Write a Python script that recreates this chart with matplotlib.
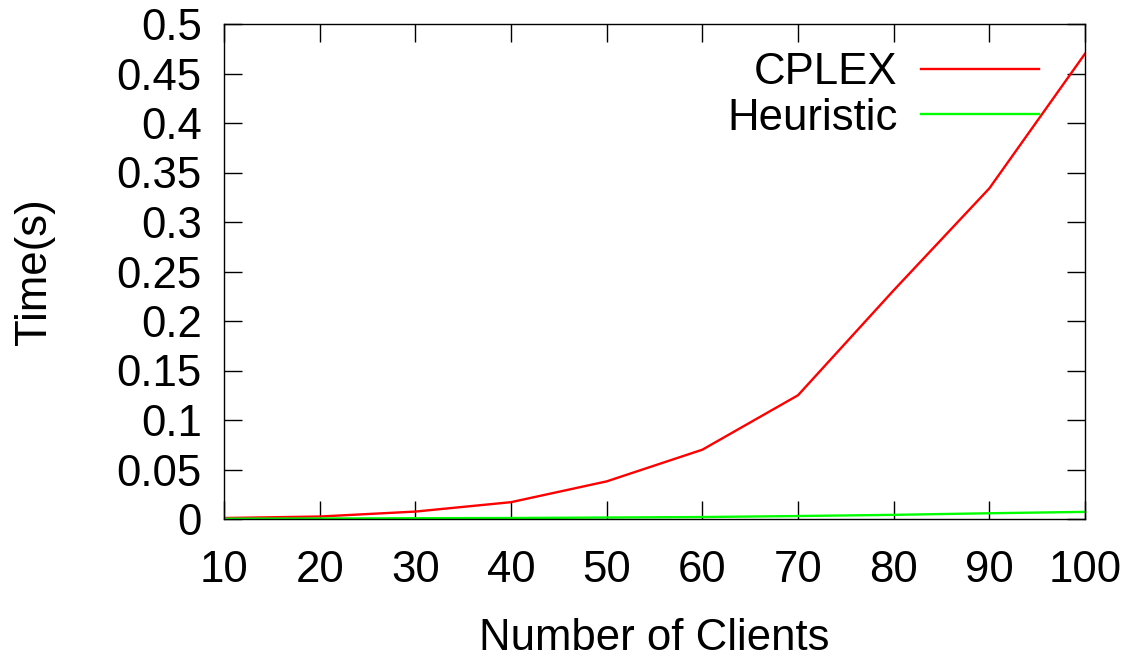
import matplotlib
matplotlib.use("Agg")
import matplotlib.pyplot as plt

clients = [10, 20, 30, 40, 50, 60, 70, 80, 90, 100]
cplex = [0.001, 0.0025, 0.0075, 0.017, 0.038, 0.070, 0.125, 0.231, 0.334, 0.470]
heuristic = [0.0003, 0.0005, 0.0008, 0.001, 0.0015, 0.002, 0.003, 0.0042, 0.0058, 0.0072]
xticks = [10, 20, 30, 40, 50, 60, 70, 80, 90, 100]
yticks = [0, 0.05, 0.1, 0.15, 0.2, 0.25, 0.3, 0.35, 0.4, 0.45, 0.5]
ytick_labels = ["0", "0.05", "0.1", "0.15", "0.2", "0.25", "0.3", "0.35", "0.4", "0.45", "0.5"]

FS = 31.5
plt.rcParams['font.family'] = ['Liberation Sans', 'DejaVu Sans']
fig = plt.figure(figsize=(11.33, 6.59), dpi=100)
ax = fig.add_axes([224/1133, 1-519/659, (1085-224)/1133, (519-24)/659])

ax.plot(clients, cplex, color='#ff0000', lw=1.7, label='CPLEX')
ax.plot(clients, heuristic, color='#00ff00', lw=1.7, label='Heuristic')

ax.set_xlim(10, 100)
ax.set_ylim(0, 0.5)
ax.set_xticks(xticks)
ax.set_yticks(yticks)
ax.set_yticklabels(ytick_labels)
ax.tick_params(direction='in', length=13, width=1, top=True, right=True,
               labelsize=FS)
ax.tick_params(axis='y', pad=16)
ax.tick_params(axis='x', pad=22)
for s in ax.spines.values():
    s.set_linewidth(1)

ax.set_xlabel('Number of Clients', fontsize=FS, labelpad=20)
ax.set_ylabel('Time(s)', fontsize=FS, labelpad=44)

leg = ax.legend(loc='upper right', bbox_to_anchor=(0.9466, 0.943), frameon=False,
                markerfirst=False, fontsize=FS, handlelength=2.7,
                handletextpad=0.53, labelspacing=0.1, borderaxespad=0, borderpad=0)
for t in leg.get_texts():
    t.set_ha('right')

fig.savefig('out.png', dpi=100)
